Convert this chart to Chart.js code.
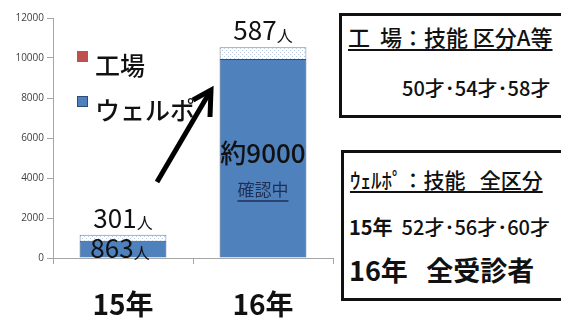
<!DOCTYPE html>
<html>
<head>
<meta charset="utf-8">
<script src="https://cdn.jsdelivr.net/npm/chart.js@4"></script>
<style>
  body { margin: 0; background: #fff; font-family: "Noto Sans CJK JP", sans-serif; }
  #wrap { position: relative; width: 561px; height: 325px; overflow: hidden; }
  #chartBox { position: absolute; left: 0; top: 0; width: 340px; height: 325px; }
  .box { position: absolute; border: 3px solid #111; background: #fff; color: #111; white-space: nowrap; font-weight: 500; }
  #box1 { left: 339px; top: 13px; width: 240px; height: 99px; }
  #box2 { left: 341px; top: 150px; width: 240px; height: 145px; }
  .ttl { position: absolute; left: 6px; font-size: 21px; text-decoration: underline; text-underline-offset: 3px; }
  .ln { position: absolute; }
</style>
</head>
<body>
<div id="wrap">
  <div id="chartBox"><canvas id="myChart" width="340" height="325"></canvas></div>
  <div class="box" id="box1">
    <div class="ttl" style="top:4px; font-size:22px;">工&nbsp;&nbsp;場：技能&nbsp;区分A等</div>
    <div class="ln" style="left:60px; top:57px; font-size:20px;">50才･54才･58才</div>
  </div>
  <div class="box" id="box2">
    <div class="ttl" style="top:11px;">ｳｪﾙﾎﾟ：技能&nbsp;&nbsp;&nbsp;全区分</div>
    <div class="ln" style="left:5px; top:59px; font-size:20px;"><b>15年</b>&nbsp;&nbsp;52才･56才･60才</div>
    <div class="ln" style="left:5px; top:97px; font-size:27px; font-weight:bold;">16年&nbsp;&nbsp;&nbsp;全受診者</div>
  </div>
</div>
<script>
const categories = ['15年', '16年'];
const welpoValues = [863, 9950];   // ウェルポ
const factoryValues = [301, 587];  // 工場
const yMax = 12000;
const yStep = 2000;

// 工場の部分は点々模様
function dotPattern() {
  const c = document.createElement('canvas');
  c.width = 4;
  c.height = 4;
  const g = c.getContext('2d');
  g.fillStyle = '#ffffff';
  g.fillRect(0, 0, 4, 4);
  g.fillStyle = '#b9cbe2';
  g.fillRect(0, 0, 1, 1);
  g.fillRect(2, 2, 1, 1);
  return g.createPattern(c, 'repeat');
}

/* ラベル・凡例・矢印 */
const overlay = {
  id: 'overlay',
  afterDatasetsDraw(chart) {
    const ctx = chart.ctx;
    const blue = chart.getDatasetMeta(0).data;
    const top = chart.getDatasetMeta(1).data;
    ctx.save();
    ctx.fillStyle = '#111';
    ctx.textBaseline = 'middle';

    function num(text, unit, x, y, size) {
      ctx.font = size + 'px "Noto Sans CJK JP"';
      const w1 = ctx.measureText(text).width;
      ctx.font = Math.round(size * 0.6) + 'px "Noto Sans CJK JP"';
      const w2 = ctx.measureText(unit).width;
      const x0 = x - (w1 + w2) / 2;
      ctx.font = size + 'px "Noto Sans CJK JP"';
      ctx.textAlign = 'left';
      ctx.fillText(text, x0, y);
      ctx.font = Math.round(size * 0.6) + 'px "Noto Sans CJK JP"';
      ctx.fillText(unit, x0 + w1, y + size * 0.2);
    }

    // 工場の人数
    top.forEach((bar, i) => {
      num(String(factoryValues[i]), '人', bar.x, bar.y - 17, 26);
    });
    // 15年 ウェルポ
    const b0 = blue[0];
    num(String(welpoValues[0]), '人', b0.x - 3, (b0.y + b0.base) / 2 - 1, 26);
    // 16年 ウェルポ
    const b1 = blue[1];
    const mid = (b1.y + b1.base) / 2;
    ctx.textAlign = 'center';
    ctx.font = '500 26px "Noto Sans CJK JP"';
    ctx.fillText('約9000', b1.x, mid - 5);
    ctx.font = '17px "Noto Sans CJK JP"';
    ctx.fillStyle = '#1f2f55';
    ctx.fillText('確認中', b1.x, mid + 31);
    const uw = ctx.measureText('確認中').width;
    ctx.fillRect(b1.x - uw / 2, mid + 42, uw, 1.5);

    // 凡例
    const xs = chart.scales.x, ys = chart.scales.y;
    const lx = xs.left + 24;
    ctx.textAlign = 'left';
    ctx.font = '500 25px "Noto Sans CJK JP"';
    ctx.fillStyle = '#c0504d';
    ctx.fillRect(lx, ys.getPixelForValue(10350), 11, 11);
    ctx.fillStyle = '#111';
    ctx.fillText('工場', lx + 18, ys.getPixelForValue(9650));
    ctx.fillStyle = '#4f81bd';
    ctx.fillRect(lx, ys.getPixelForValue(8100), 11, 11);
    ctx.strokeStyle = '#2c4d75';
    ctx.lineWidth = 1;
    ctx.strokeRect(lx + 0.5, ys.getPixelForValue(8100) + 0.5, 10, 10);
    ctx.fillStyle = '#111';
    ctx.fillText('ウェルポ', lx + 18, ys.getPixelForValue(7400));

    // 矢印
    const ax0 = xs.left + 104, ay0 = ys.getPixelForValue(3800);
    const ax1 = xs.left + 158, ay1 = ys.getPixelForValue(8400);
    ctx.strokeStyle = '#000';
    ctx.lineWidth = 5;
    ctx.lineCap = 'butt';
    ctx.beginPath();
    ctx.moveTo(ax0, ay0);
    ctx.lineTo(ax1, ay1);
    ctx.stroke();
    ctx.lineJoin = 'miter';
    ctx.beginPath();
    ctx.moveTo(ax1 - 18, ay1 + 10);
    ctx.lineTo(ax1, ay1);
    ctx.lineTo(ax1 - 1, ay1 + 27);
    ctx.stroke();
    ctx.restore();
  }
};

new Chart(document.getElementById('myChart'), {
  type: 'bar',
  data: {
    labels: categories,
    datasets: [
      {
        label: 'ウェルポ',
        data: welpoValues,
        backgroundColor: '#4f81bd',
        borderColor: '#2c4d75',
        borderWidth: 1,
      },
      {
        label: '工場',
        data: factoryValues,
        backgroundColor: dotPattern(),
        borderColor: '#7f7f7f',
        borderWidth: 1,
      },
    ],
  },
  options: {
    responsive: false,
    animation: false,
    devicePixelRatio: 1,
    layout: { padding: { top: 18, right: 7, left: 0, bottom: 0 } },
    plugins: { legend: { display: false }, tooltip: { enabled: false } },
    datasets: { bar: { categoryPercentage: 1, barPercentage: 0.62 } },
    scales: {
      x: {
        stacked: true,
        grid: { drawOnChartArea: false, tickLength: 6, color: '#a6a6a6' },
        border: { color: '#a6a6a6' },
        ticks: { color: '#111', font: { size: 28, weight: 'bold', family: '"Noto Sans CJK JP"' }, padding: 24 },
        afterFit(scale) { scale.height = 67; },
      },
      y: {
        stacked: true,
        min: 0,
        max: yMax,
        grid: { drawOnChartArea: false, tickLength: 6, color: '#a6a6a6' },
        border: { color: '#a6a6a6' },
        ticks: {
          stepSize: yStep,
          color: '#404040',
          font: { size: 10, family: '"Open Sans"' },
          padding: 3,
          callback: (v) => String(v),
        },
        afterFit(scale) { scale.width = 53; },
      },
    },
  },
  plugins: [overlay],
});
</script>
</body>
</html>
